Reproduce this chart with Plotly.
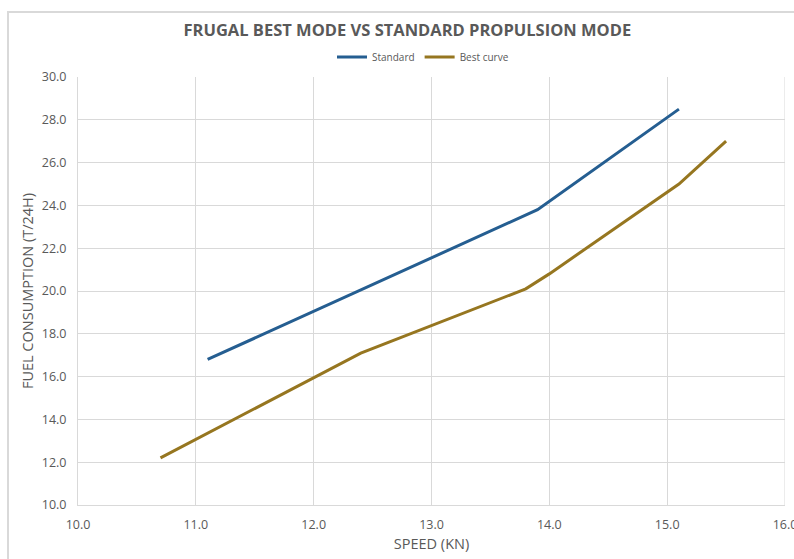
import plotly.graph_objects as go

# Fuel consumption (t/24h) versus speed (kn) for the two propulsion modes
standard_speed = [11.1, 12.4, 13.9, 15.1]
standard_fuel = [16.8, 20.05, 23.8, 28.5]

best_speed = [10.7, 12.4, 13.8, 14.0, 15.1, 15.5]
best_fuel = [12.2, 17.1, 20.1, 20.8, 25.0, 27.0]

x_ticks = [10, 11, 12, 13, 14, 15, 16]
y_ticks = [10, 12, 14, 16, 18, 20, 22, 24, 26, 28, 30]

BLUE = "#255e91"
GOLD = "#967620"
GRID = "#d9d9d9"
TEXT = "#595959"
FONT = "Open Sans, Liberation Sans, sans-serif"

fig = go.Figure()
fig.add_trace(go.Scatter(
    x=standard_speed, y=standard_fuel, mode="lines", name="Standard",
    line=dict(color=BLUE, width=3),
))
fig.add_trace(go.Scatter(
    x=best_speed, y=best_fuel, mode="lines", name="Best curve",
    line=dict(color=GOLD, width=3),
))

L, R, T, B = 78, 9, 77, 54
W, H = 794, 559
pw, ph = W - L - R, H - T - B

def px_x(p):
    return (p - L) / pw

def px_y(p):
    return 1 - (p - T) / ph

fig.update_layout(
    width=W, height=H,
    margin=dict(l=L, r=R, t=T, b=B),
    paper_bgcolor="white", plot_bgcolor="white",
    font=dict(family=FONT, color=TEXT),
    title=dict(
        text="<b>FRUGAL BEST MODE VS STANDARD PROPULSION MODE</b>",
        x=0.513, xanchor="center", y=1 - 30 / H, yanchor="middle",
        font=dict(size=16.5, color=TEXT, family=FONT),
    ),
    legend=dict(
        orientation="h", x=px_x(423), xanchor="center", y=px_y(57), yanchor="middle",
        font=dict(size=10, color=TEXT, family=FONT),
        itemwidth=30, tracegroupgap=0, bgcolor="rgba(0,0,0,0)",
    ),
    showlegend=True,
    xaxis=dict(
        range=[10, 16], tickvals=x_ticks, tickformat=".1f",
        showgrid=True, gridcolor=GRID, gridwidth=1,
        showline=True, linecolor=GRID, linewidth=1, mirror=False,
        zeroline=False, ticks="", ticklabelstandoff=8,
        ticklabeloverflow="allow", automargin=False,
        tickfont=dict(size=12.5, color=TEXT),
        title=dict(text="SPEED (KN)", font=dict(size=14.5, color=TEXT), standoff=6),
    ),
    yaxis=dict(
        range=[10, 30], tickvals=y_ticks, tickformat=".1f",
        showgrid=True, gridcolor=GRID, gridwidth=1,
        showline=True, linecolor=GRID, linewidth=1, mirror=False,
        zeroline=False, ticks="", ticklabelstandoff=8,
        ticklabeloverflow="allow", automargin=False,
        tickfont=dict(size=12.5, color=TEXT),
        title=dict(text="FUEL CONSUMPTION (T/24H)", font=dict(size=14.5, color=TEXT), standoff=4),
    ),
    shapes=[
        # outer chart frame
        dict(type="rect", xref="paper", yref="paper",
             x0=px_x(8), x1=px_x(W + 20), y0=px_y(H + 20), y1=px_y(12),
             line=dict(color=GRID, width=2), fillcolor="rgba(0,0,0,0)", layer="below"),
        # right edge of plot area
        dict(type="line", xref="x", yref="y", x0=16, x1=16, y0=10, y1=30,
             line=dict(color=GRID, width=1), layer="below"),
    ],
)

fig.write_html("out.html")
